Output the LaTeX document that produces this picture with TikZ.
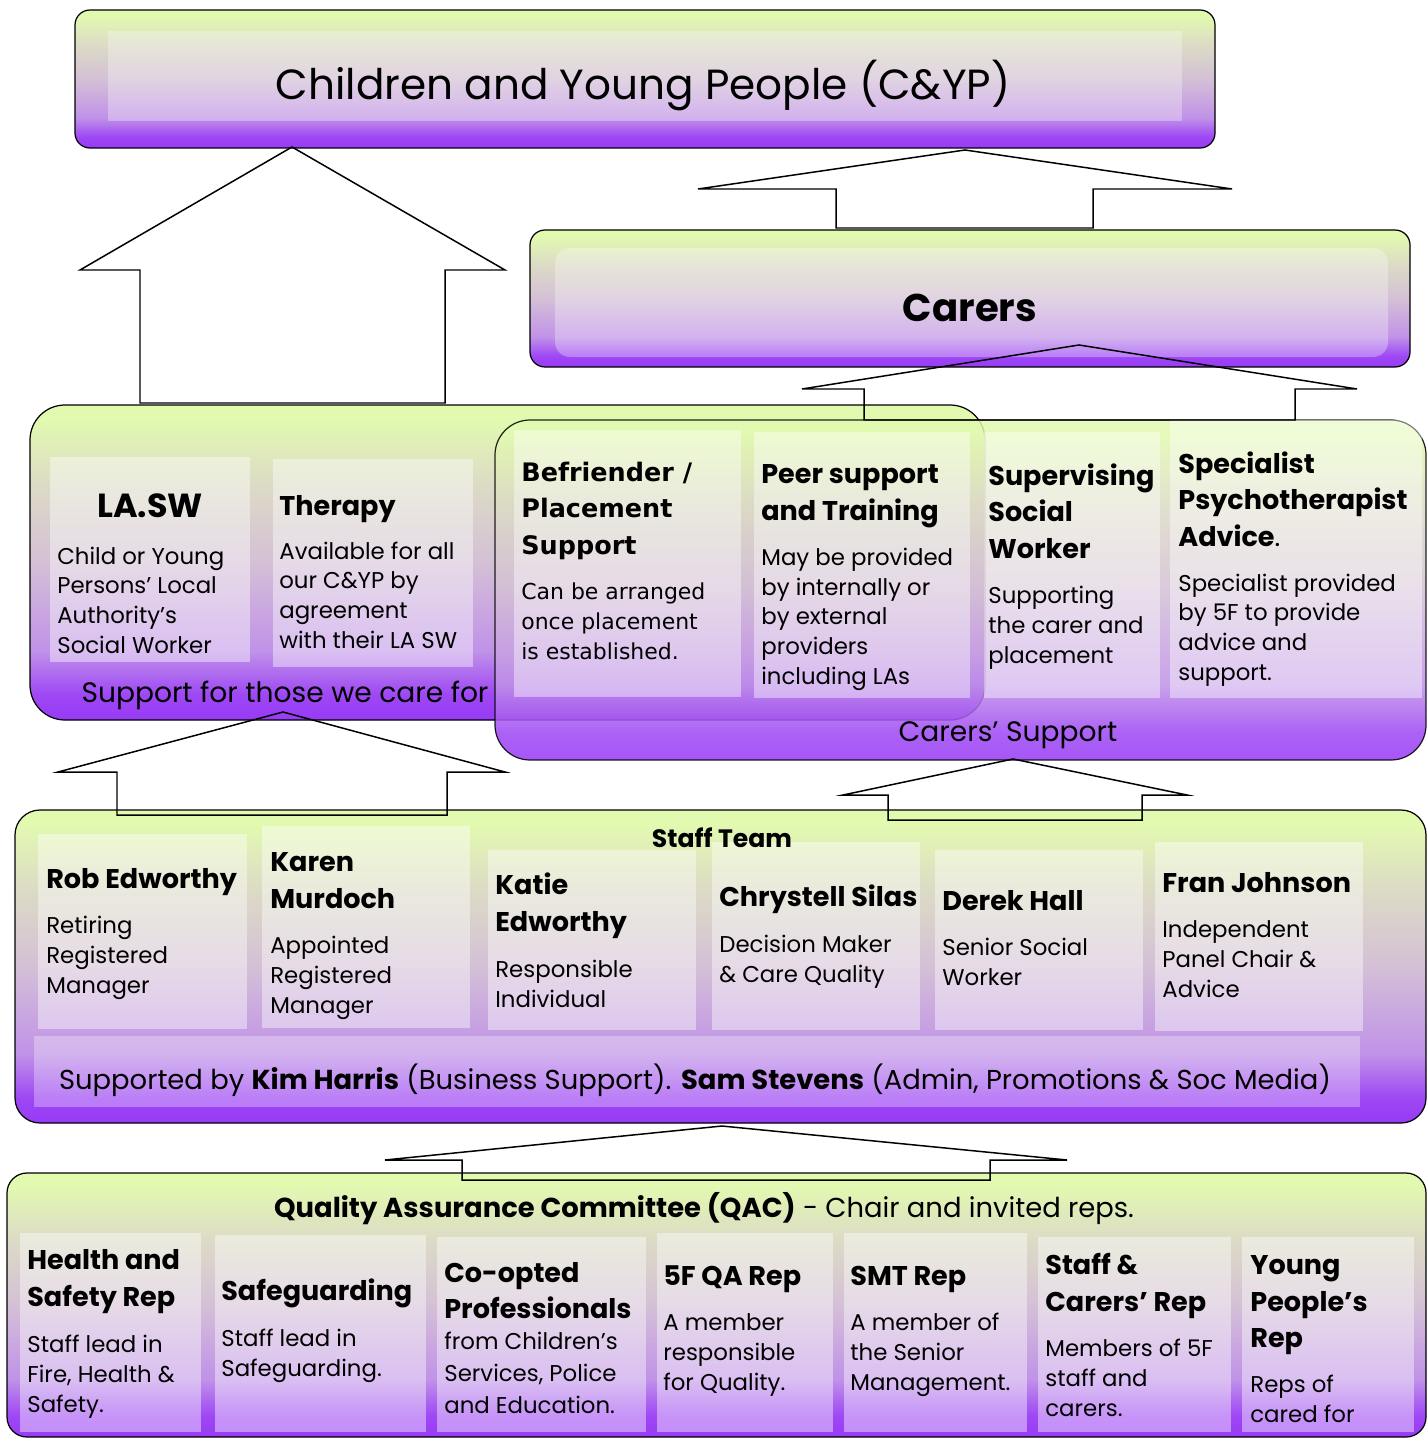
\documentclass[tikz,border=0pt]{standalone}
\usepackage{fontspec}
\setmainfont{Poppins}
\newfontfamily\verdfont{DejaVu Sans}
\usetikzlibrary{shadings}

\definecolor{limetop}{RGB}{226,250,176}
\definecolor{beigemid}{RGB}{220,218,198}
\definecolor{pinkgrey}{RGB}{212,192,214}
\definecolor{lilac}{RGB}{192,146,232}
\definecolor{purplebot}{RGB}{152,58,246}

\pgfdeclareverticalshading{panelgrad}{100bp}{color(0bp)=(purplebot); color(25bp)=(purplebot); color(29bp)=(purplebot!85!lilac); color(36bp)=(lilac); color(50bp)=(pinkgrey); color(62bp)=(beigemid); color(73bp)=(limetop); color(100bp)=(limetop)}

\newcommand{\blockarrow}[8]{%
  \draw[arrowline] (#6,#8) -- (#6,#3) -- (#4,#3) -- (#1,#2) -- (#5,#3) -- (#7,#3) -- (#7,#8) -- cycle;}

\begin{document}
\begin{tikzpicture}[x=0.02cm, y=-0.02cm,
    panel/.style={draw=black, line width=0.7pt, shading=panelgrad},
    cell/.style={fill=white, fill opacity=0.42},
    arrowline/.style={draw=black, line width=0.85pt, line join=miter},
    headtxt/.style={anchor=base west, align=left, inner sep=0pt,
      font=\fontsize{15.4}{20.5}\selectfont\bfseries},
    bodytxt/.style={anchor=base west, align=left, inner sep=0pt,
      font=\fontsize{13}{16.8}\selectfont},
    verdhead/.style={headtxt, font=\verdfont\fontsize{14.5}{20.5}\selectfont\bfseries},
    verdbody/.style={bodytxt, font=\verdfont\fontsize{12.5}{16.8}\selectfont},
    bigtxt/.style={anchor=base, inner sep=0pt, font=\fontsize{15.6}{20}\selectfont}]
  \useasboundingbox (0,0) rectangle (1427,1439);

  % top level
  \path[panel, rounded corners=0.3cm] (75,10) rectangle (1215,148);
  \fill[cell, fill opacity=0.3] (108,31) rectangle (1182,121);
  \node[bigtxt, font=\fontsize{24}{28}\selectfont] (title) at (643,100) {Children and Young People (C\&YP)};

  \path[panel, rounded corners=0.3cm] (530,230) rectangle (1410,367);
  \fill[cell, fill opacity=0.3, rounded corners=0.3cm] (555,248) rectangle (1388,357);
  \node[bigtxt, font=\fontsize{22}{26}\selectfont\bfseries] (carers) at (970,321) {Carers};

  % support panels
  \path[panel, rounded corners=0.7cm] (30,405) rectangle (985,720);
  \fill[cell] (50,457) rectangle (250,662);
  \fill[cell] (273,459) rectangle (473,667);
  \node[bigtxt, font=\fontsize{16}{20}\selectfont] (caredfor) at (285,702) {Support for those we care for};

  \path[panel, opacity=0.86, rounded corners=0.7cm] (495,420) rectangle (1426,760);
  \fill[cell] (514,430) rectangle (741,697);
  \fill[cell] (754,432) rectangle (970,698);
  \fill[cell] (984,432) rectangle (1160,698);
  \fill[cell] (1170,420) rectangle (1422,698);
  \node[bigtxt, font=\fontsize{16}{20}\selectfont] (carersupport) at (1008,741) {Carers’ Support};

  \node[headtxt, anchor=base, font=\fontsize{19}{22}\selectfont\bfseries] (lasw) at (150,517) {LA.SW};
  \node[bodytxt] (laswtxt) at (57,653) {Child or Young\\Persons’ Local\\Authority’s\\Social Worker};
  \node[headtxt] (therapy) at (279,515) {Therapy};
  \node[bodytxt] (therapytxt) at (279,648) {Available for all\\our C\&YP by\\agreement\\with their LA SW};

  \node[verdhead] (befriend) at (521,554) {Befriender /\\Placement\\Support};
  \node[verdbody] (befriendtxt) at (521,659) {Can be arranged\\once placement\\is established.};
  \node[headtxt] (peer) at (761,520) {Peer support\\and Training};
  \node[bodytxt] (peertxt) at (761,684) {May be provided\\by internally or\\by external\\providers\\including LAs};
  \node[headtxt] (ssw) at (988,558) {Supervising\\Social\\Worker};
  \node[bodytxt] (sswtxt) at (988,663) {Supporting\\the carer and\\placement};
  \node[headtxt] (psych) at (1178,546) {Specialist\\Psychotherapist\\Advice\textmd{.}};
  \node[bodytxt] (psychtxt) at (1178,680) {Specialist provided\\by 5F to provide\\advice and\\support.};

  % staff team
  \path[panel, rounded corners=0.5cm] (15,810) rectangle (1426,1123);
  \fill[cell] (38,834) rectangle (247,1029);
  \fill[cell] (262,826) rectangle (470,1028);
  \fill[cell] (488,850) rectangle (696,1030);
  \fill[cell] (712,842) rectangle (920,1030);
  \fill[cell] (935,850) rectangle (1143,1030);
  \fill[cell] (1155,842) rectangle (1363,1031);
  \fill[cell, fill opacity=0.3] (34,1036) rectangle (1360,1107);
  \node[bigtxt, font=\fontsize{14.3}{17}\selectfont\bfseries] (staffteam) at (722,847) {Staff Team};

  \node[headtxt] (rob) at (46,888) {Rob Edworthy};
  \node[bodytxt] (robtxt) at (46,993) {Retiring\\Registered\\Manager};
  \node[headtxt] (karen) at (270,908) {Karen\\Murdoch};
  \node[bodytxt] (karentxt) at (270,1013) {Appointed\\Registered\\Manager};
  \node[headtxt] (katie) at (495,931) {Katie\\Edworthy};
  \node[bodytxt] (katietxt) at (495,1007) {Responsible\\Individual};
  \node[headtxt] (chrystell) at (719,906) {Chrystell Silas};
  \node[bodytxt] (chrystelltxt) at (719,982) {Decision Maker\\\& Care Quality};
  \node[headtxt] (derek) at (942,910) {Derek Hall};
  \node[bodytxt] (derektxt) at (942,985) {Senior Social\\Worker};
  \node[headtxt] (fran) at (1162,892) {Fran Johnson};
  \node[bodytxt] (frantxt) at (1162,997) {Independent\\Panel Chair \&\\Advice};
  \node[bigtxt] (supported) at (695,1089) {Supported by \textbf{Kim Harris} (Business Support). \textbf{Sam Stevens} (Admin, Promotions \& Soc Media)};

  % quality assurance committee
  \path[panel, rounded corners=0.4cm] (7,1173) rectangle (1426,1437);
  \fill[cell] (20,1233) rectangle (201,1432);
  \fill[cell] (215,1235) rectangle (426,1432);
  \fill[cell] (437,1237) rectangle (646,1432);
  \fill[cell] (657,1233) rectangle (833,1432);
  \fill[cell] (844,1233) rectangle (1027,1432);
  \fill[cell] (1038,1237) rectangle (1231,1432);
  \fill[cell] (1242,1237) rectangle (1414,1432);
  \node[bigtxt] (qac) at (704,1217) {\textbf{Quality Assurance Committee (QAC)} - Chair and invited reps.};

  \node[headtxt] (health) at (27,1306) {Health and\\Safety Rep};
  \node[bodytxt] (healthtxt) at (27,1412) {Staff lead in\\Fire, Health \&\\Safety.};
  \node[headtxt] (safeg) at (221,1300) {Safeguarding};
  \node[bodytxt] (safegtxt) at (221,1376) {Staff lead in\\Safeguarding.};
  \node[headtxt] (coopt) at (444,1318) {Co-opted\\Professionals};
  \node[bodytxt, font=\fontsize{13}{18}\selectfont] (cooptxt) at (444,1413) {from Children’s\\Services, Police\\and Education.};
  \node[headtxt] (qarep) at (663,1285) {5F QA Rep};
  \node[bodytxt] (qareptxt) at (663,1390) {A member\\responsible\\for Quality.};
  \node[headtxt] (smt) at (850,1285) {SMT Rep};
  \node[bodytxt] (smttxt) at (850,1390) {A member of\\the Senior\\Management.};
  \node[headtxt] (staffrep) at (1045,1311) {Staff \&\\Carers’ Rep};
  \node[bodytxt] (staffreptxt) at (1045,1416) {Members of 5F\\staff and\\carers.};
  \node[headtxt] (yprep) at (1250,1347) {Young\\People’s\\Rep};
  \node[bodytxt] (ypreptxt) at (1250,1422) {Reps of\\cared for};

  % block arrows
  \blockarrow{292}{147}{270}{80}{505}{140}{445}{403}
  \blockarrow{965}{150}{189}{698}{1232}{836}{1093}{228}
  \blockarrow{1079}{345}{389}{802}{1357}{864}{1295}{420}
  \blockarrow{283}{712}{772}{58}{505}{117}{447}{815}
  \blockarrow{1013}{759}{795}{843}{1187}{888}{1142}{820}
  \blockarrow{722}{1126}{1160}{385}{1067}{462}{990}{1180}
\end{tikzpicture}
\end{document}
